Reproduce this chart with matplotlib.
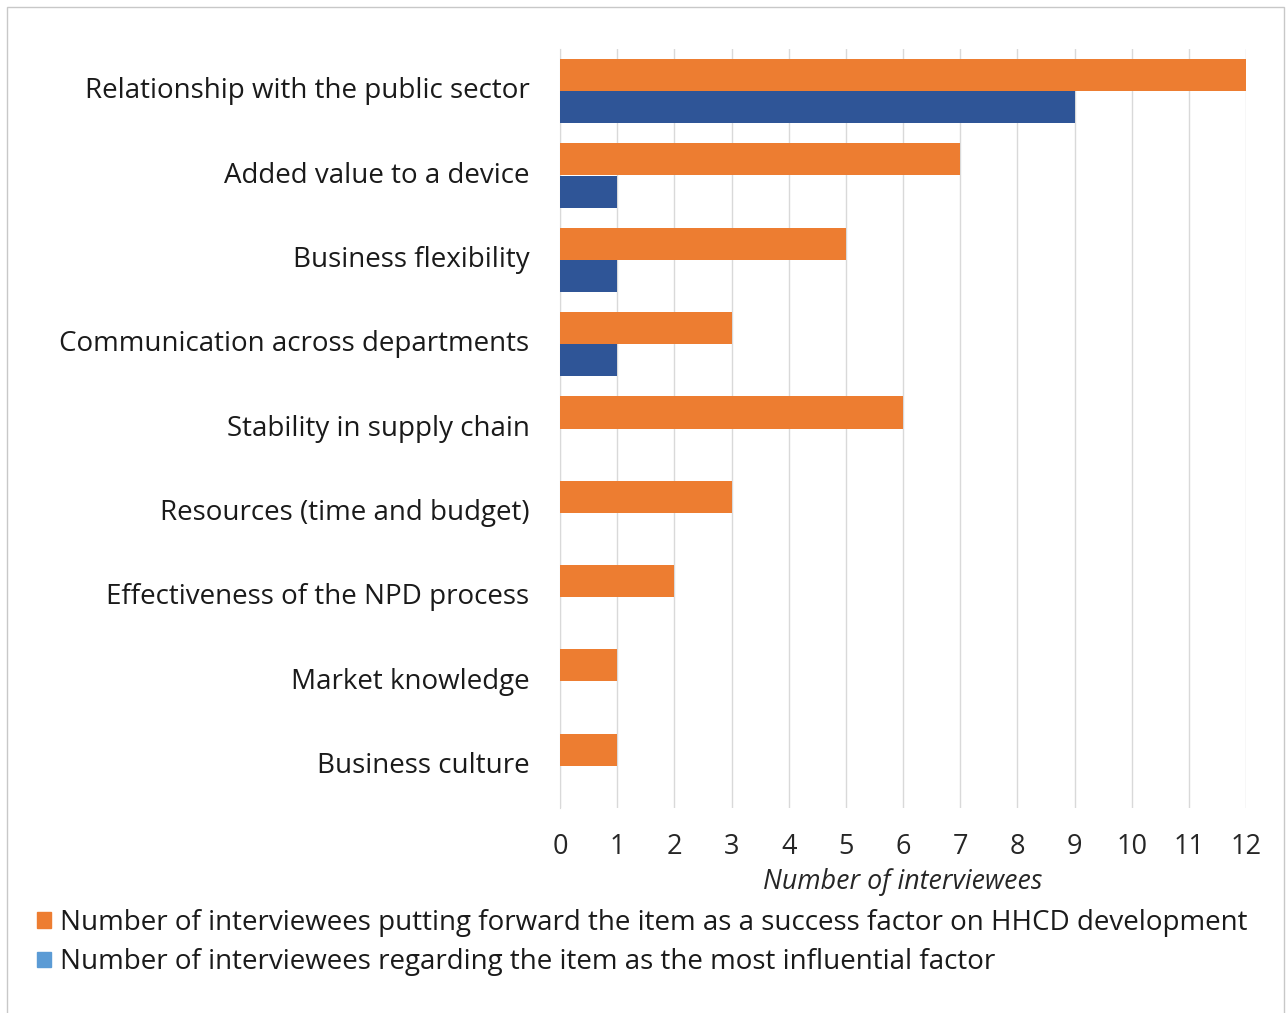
import matplotlib
matplotlib.use("Agg")
import matplotlib.pyplot as plt
from matplotlib.patches import Patch, Rectangle
import numpy as np

categories = ["Relationship with the public sector", "Added value to a device",
              "Business flexibility", "Communication across departments",
              "Stability in supply chain", "Resources (time and budget)",
              "Effectiveness of the NPD process", "Market knowledge", "Business culture"]
success_factor = [12, 7, 5, 3, 6, 3, 2, 1, 1]
most_influential = [9, 1, 1, 1, 0, 0, 0, 0, 0]
legend_labels = ["Number of interviewees putting forward the item as a success factor on HHCD development",
                 "Number of interviewees regarding the item as the most influential factor"]
xticks = list(range(0, 13))

plt.rcParams['font.family'] = ['Open Sans', 'DejaVu Sans']
FS = 20

fig = plt.figure(figsize=(12.87, 10.13), dpi=100)
ax = fig.add_axes([560/1287, 1-808/1013, (1246-560)/1287, (808-49)/1013])

y = np.arange(len(categories))
h = 0.38
ax.barh(y - h/2, success_factor, height=h, color='#ED7D31', zorder=3)
ax.barh(y + h/2, most_influential, height=h, color='#2F5597', zorder=3)

ax.set_ylim(len(categories) - 0.5, -0.5)
ax.set_xlim(0, 12)
ax.set_xticks(xticks)
ax.set_yticks(y)
ax.set_yticklabels(categories, fontsize=FS, color='#1a1a1a', va='center')
ax.tick_params(axis='y', length=0, pad=22)
ax.tick_params(axis='x', length=0, pad=18, labelsize=FS - 0.5, labelcolor='#262626')
ax.grid(axis='x', color='#D9D9D9', linewidth=1, zorder=0)
for s in ['top', 'right', 'bottom']:
    ax.spines[s].set_visible(False)
ax.spines['left'].set_color('#D9D9D9')
ax.set_xlabel("Number of interviewees", fontsize=19.3, style='italic', color='#262626', labelpad=5)

handles = [Patch(color='#ED7D31'), Patch(color='#5B9BD5')]
fig.legend(handles, legend_labels, loc='upper left', bbox_to_anchor=(0.029, 0.103),
           frameon=False, fontsize=FS, handlelength=0.5, handleheight=0.5,
           handletextpad=0.3, labelspacing=0.42, borderaxespad=0, borderpad=0,
           labelcolor='#1a1a1a')

fig.patches.append(Rectangle((7/1287, -0.01), (1284-7)/1287, 1 - 7/1013 + 0.01,
                             transform=fig.transFigure, fill=False,
                             edgecolor='#C8C8C8', linewidth=1))

fig.savefig("out.png", dpi=100)
